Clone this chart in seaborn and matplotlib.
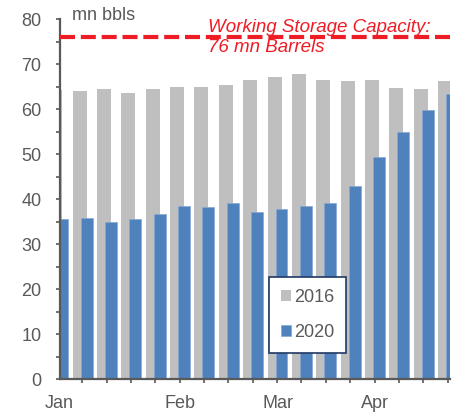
import numpy as np
import matplotlib
matplotlib.use("Agg")
import matplotlib.pyplot as plt
import seaborn as sns

# weekly crude stocks, week index from start of January
weeks = np.arange(17)
stocks_2016 = [64.2, 64.1, 64.4, 63.6, 64.4, 64.9, 65.0, 65.3, 66.5,
               67.2, 67.7, 66.5, 66.2, 66.5, 64.7, 64.4, 66.3]
stocks_2020 = [35.5, 35.8, 34.9, 35.6, 36.7, 38.4, 38.2, 39.1, 37.1,
               37.8, 38.5, 39.2, 43.0, 49.3, 55.0, 59.8, 63.4]
day_shift_2016 = 2 / 7  # 2016 weeks end two days earlier
capacity = 76
month_labels = ["Jan", "Feb", "Mar", "Apr"]
month_pos = [-0.117, 4.84, 8.84, 12.84]

sns.set_style("white")
plt.rcParams["font.family"] = ["Liberation Sans", "DejaVu Sans"]

text_col = "#595959"
gray = "#BFBFBF"
blue = "#4F81BD"
red = "#EE1C25"

fig = plt.figure(figsize=(4.58, 4.12), dpi=100)
ax = fig.add_axes([59.5 / 458, 32.7 / 412, 390 / 458, 360.3 / 412])

sns.barplot(x=weeks - day_shift_2016, y=stocks_2016, native_scale=True,
            color=gray, saturation=1, width=0.575, errorbar=None,
            label="2016", ax=ax, linewidth=0)
sns.barplot(x=weeks, y=stocks_2020, native_scale=True,
            color=blue, saturation=1, width=0.49, errorbar=None,
            label="2020", ax=ax, edgecolor="#86A9D6", linewidth=0.5)

ax.axhline(capacity, color=red, lw=3, dashes=(3.6, 1.4), zorder=5)
ax.text(0.38, 0.9648, "Working Storage Capacity:", transform=ax.transAxes,
        color=red, fontsize=13.5, style="italic", va="baseline", ha="left")
ax.text(0.38, 0.9076, f"{capacity} mn Barrels", transform=ax.transAxes,
        color=red, fontsize=13.5, style="italic", va="baseline", ha="left")
ax.text(0.031, 0.997, "mn bbls", transform=ax.transAxes, color=text_col,
        fontsize=13, va="baseline", ha="left", clip_on=False)

ax.set_xlim(-0.117, 15.9)
ax.set_ylim(0, 80)
ax.set_yticks(np.arange(0, 81, 10))
ax.set_yticks(np.arange(5, 80, 10), minor=True)
ax.set_xticks(month_pos)
ax.set_xticklabels(month_labels)
ax.set_xticks(weeks[:16] + 0.82, minor=True)
ax.set_xlabel("")
ax.set_ylabel("")

for side in ["top", "right"]:
    ax.spines[side].set_visible(False)
for side in ["left", "bottom"]:
    ax.spines[side].set_color(text_col)
    ax.spines[side].set_linewidth(1.6)

ax.tick_params(axis="y", which="both", direction="out", length=3, width=1.2,
               color=text_col, labelcolor=text_col, labelsize=13, pad=10, left=True)
ax.tick_params(axis="x", which="major", length=0, labelcolor=text_col,
               labelsize=13, pad=11, bottom=True)
ax.tick_params(axis="x", which="minor", direction="out", length=3, width=1.2,
               color=text_col, bottom=True)

leg = ax.legend(loc="upper left", bbox_to_anchor=(0.537, 0.284), fontsize=13,
                handlelength=0.55, handleheight=0.55, handletextpad=0.2,
                labelspacing=1.0, borderpad=0.65, fancybox=False,
                framealpha=1, edgecolor="#1F3864", borderaxespad=0)
leg.get_frame().set_linewidth(1.2)
for t in leg.get_texts():
    t.set_color(text_col)

fig.savefig("out.png", dpi=100)
